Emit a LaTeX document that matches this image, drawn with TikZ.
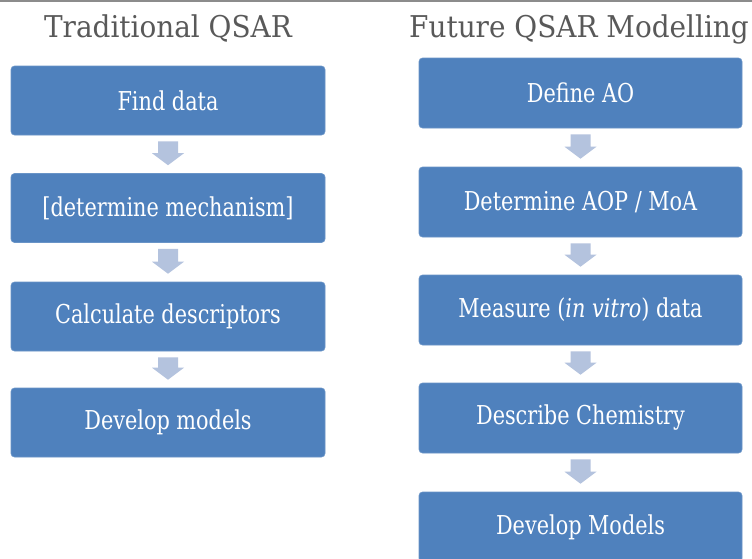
\documentclass[tikz,border=0pt]{standalone}
\usepackage{fontspec}
\setmainfont{DejaVu Serif}[FakeStretch=0.8]
\newfontfamily\headfont{DejaVu Serif}[FakeStretch=0.93]
\usetikzlibrary{calc}
\definecolor{boxblue}{HTML}{4F81BD}
\definecolor{arrowblue}{HTML}{B4C3DE}
\definecolor{headgray}{HTML}{595959}
\tikzset{
  stepbox/.style={rectangle, rounded corners=3.5pt, fill=boxblue, draw=boxblue!85!white, line width=0.6pt,
    text=white, font=\fontsize{26}{30}\selectfont, inner sep=0pt, minimum height=69pt},
  leftbox/.style={stepbox, minimum width=314pt},
  rightbox/.style={stepbox, minimum width=323pt, minimum height=70pt},
  header/.style={text=headgray, font=\headfont\fontsize{30}{34}\selectfont, inner sep=0pt, anchor=base}
}
\newcommand{\qarrow}[2]{%
  \fill[arrowblue] let \p1=(#1.south), \p2=(#2.north) in
    (\x1-10pt,\y1-6pt) -- (\x1+10pt,\y1-6pt) -- (\x1+10pt,\y2+20pt) -- (\x1+16pt,\y2+20pt)
    -- (\x1,\y2+8pt) -- (\x1-16pt,\y2+20pt) -- (\x1-10pt,\y2+20pt) -- cycle;}
\begin{document}
\begin{tikzpicture}[x=1pt,y=1pt]
\useasboundingbox (0,0) rectangle (752,-558);
\fill[white] (0,0) rectangle (752,-558);
\draw[gray!90, line width=2pt] (0,-1) -- (752,-1);
% headers
\node[header] (h1) at (168,-37) {Traditional QSAR};
\node[header] (h2) at (579,-37) {Future QSAR Modelling};
% left column
\node[leftbox] (l1) at (168,-100.5) {Find data};
\node[leftbox] (l2) at (168,-208) {[determine mechanism]};
\node[leftbox] (l3) at (168,-316.5) {Calculate descriptors};
\node[leftbox] (l4) at (168,-422.5) {Develop models};
% right column
\node[rightbox] (r1) at (580.5,-93) {Define AO};
\node[rightbox] (r2) at (580.5,-202) {Determine AOP / MoA};
\node[rightbox] (r3) at (580.5,-310) {Measure (\textit{in vitro}) data};
\node[rightbox] (r4) at (580.5,-418) {Describe Chemistry};
\node[rightbox] (r5) at (580.5,-527) {Develop Models};
% arrows
\qarrow{l1}{l2}
\qarrow{l2}{l3}
\qarrow{l3}{l4}
\qarrow{r1}{r2}
\qarrow{r2}{r3}
\qarrow{r3}{r4}
\qarrow{r4}{r5}
\end{tikzpicture}
\end{document}
